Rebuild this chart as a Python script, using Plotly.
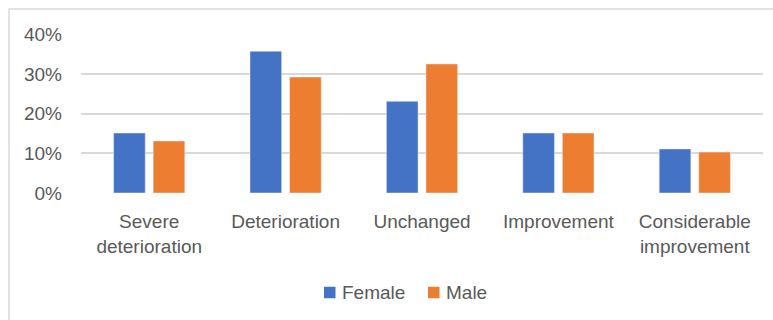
import plotly.graph_objects as go

# Share of respondents by change in condition, split by sex
categories = ["Severe<br>deterioration", "Deterioration", "Unchanged",
              "Improvement", "Considerable<br>improvement"]
female = [0.151, 0.357, 0.231, 0.151, 0.111]
male = [0.131, 0.292, 0.325, 0.151, 0.103]
y_ticks = [0, 0.1, 0.2, 0.3, 0.4]
series_names = ["Female", "Male"]

BLUE = "#4472C4"
ORANGE = "#ED7D31"
GRID = "#D9D9D9"
TEXT = "#595959"
FONT = "Liberation Sans"
SIZE = 19

fig = go.Figure()
fig.add_trace(go.Bar(name=series_names[0], x=categories, y=female, marker_color=BLUE))
fig.add_trace(go.Bar(name=series_names[1], x=categories, y=male, marker_color=ORANGE))

# Pixel layout of the figure
L, R, T, B = 81, 10, 34, 127
W, H = 773, 320
pw, ph = W - L - R, H - T - B


def px_x(p):
    return (p - L) / pw


def px_y(p):
    return (H - B - p) / ph


# Compact legend: small square swatch followed closely by the label
legend_items = [(series_names[0], BLUE, 324), (series_names[1], ORANGE, 428)]
legend_cy = 292.5
shapes = [dict(type="rect", xref="paper", yref="paper",
               x0=px_x(9), x1=px_x(776), y0=px_y(323), y1=px_y(9),
               line=dict(color=GRID, width=1.5), layer="below")]
annotations = []
for name, color, sx in legend_items:
    shapes.append(dict(type="rect", xref="paper", yref="paper",
                       x0=px_x(sx), x1=px_x(sx + 11.5),
                       y0=px_y(legend_cy + 5.75), y1=px_y(legend_cy - 5.75),
                       fillcolor=color, line=dict(width=0)))
    annotations.append(dict(text=name, xref="paper", yref="paper",
                            x=px_x(sx + 17), y=px_y(legend_cy),
                            xanchor="left", yanchor="middle",
                            showarrow=False, borderpad=0,
                            font=dict(family=FONT, size=SIZE, color=TEXT)))

fig.update_layout(
    width=W, height=H,
    margin=dict(l=L, r=R, t=T, b=B, pad=0),
    paper_bgcolor="white", plot_bgcolor="white",
    barmode="group", bargap=0.42, bargroupgap=0.2,
    font=dict(family=FONT, size=SIZE, color=TEXT),
    showlegend=False,
    xaxis=dict(showline=False, showgrid=False, ticks="",
               tickfont=dict(family=FONT, size=SIZE, color=TEXT),
               ticklabelstandoff=15),
    yaxis=dict(range=[0, 0.4005], tickvals=y_ticks, tickformat=".0%",
               showgrid=True, gridcolor=GRID, gridwidth=1.5,
               zeroline=False, showline=False, ticks="",
               tickfont=dict(family=FONT, size=SIZE, color=TEXT),
               ticklabelstandoff=18),
    shapes=shapes,
    annotations=annotations,
)

fig.write_html("out.html")
